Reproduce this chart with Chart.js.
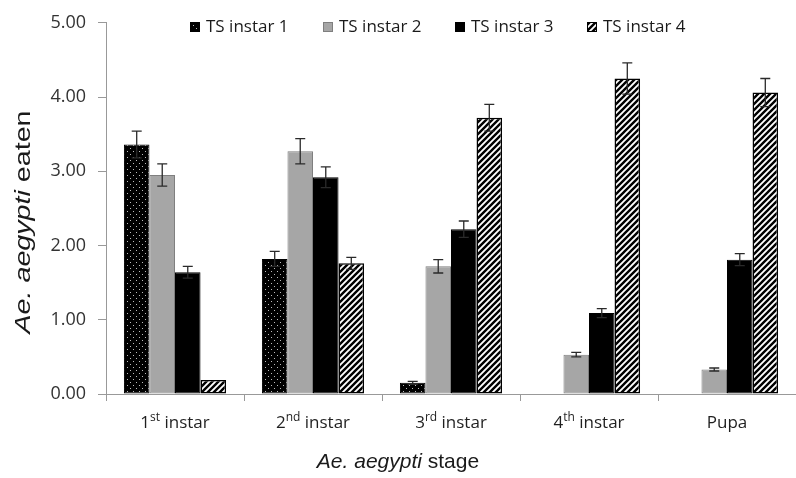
<!DOCTYPE html>
<html>
<head>
<meta charset="utf-8">
<script src="https://cdn.jsdelivr.net/npm/chart.js@4.4.1/dist/chart.umd.min.js"></script>
<style>
  html, body { margin: 0; padding: 0; background: #fff; }
  #wrap { width: 796px; height: 478px; position: relative; }
</style>
</head>
<body>
<div id="wrap"><canvas id="chart"></canvas></div>
<script>
// Datos
const categories = ["1st instar", "2nd instar", "3rd instar", "4th instar", "Pupa"];
const seriesNames = ["TS instar 1", "TS instar 2", "TS instar 3", "TS instar 4"];
const ts1 = [3.36, 1.82, 0.15, 0, 0];
const ts2 = [2.95, 3.27, 1.72, 0.53, 0.33];
const ts3 = [1.64, 2.92, 2.22, 1.09, 1.81];
const ts4 = [0.19, 1.76, 3.72, 4.25, 4.06];
const ts1Err = [0.18, 0.10, 0.02, 0, 0];
const ts2Err = [0.15, 0.17, 0.09, 0.03, 0.02];
const ts3Err = [0.08, 0.14, 0.11, 0.06, 0.08];
const ts4Err = [0.00, 0.08, 0.18, 0.21, 0.19];
const yMin = 0, yMax = 5, yStep = 1;
const xTitle = ["Ae. aegypti", " stage"];
const yTitle = ["Ae. aegypti", " eaten"];

// patrones de relleno
function makeTile(size, draw) {
    const c = document.createElement("canvas");
    c.width = size; c.height = size;
    draw(c.getContext("2d"), size);
    return c.getContext("2d").createPattern(c, "repeat");
}
const dotPattern = makeTile(6, (g, s) => {
    g.fillStyle = "#000"; g.fillRect(0, 0, s, s);
    g.fillStyle = "#bdbdbd";
    g.fillRect(1, 1, 1, 1);
    g.fillRect(4, 4, 1, 1);
});
const hatchPattern = makeTile(6, (g, s) => {
    g.fillStyle = "#fff"; g.fillRect(0, 0, s, s);
    g.strokeStyle = "#000"; g.lineWidth = 2.4;
    g.beginPath();
    g.moveTo(-1, s + 1); g.lineTo(s + 1, -1);
    g.moveTo(-1, 1); g.lineTo(1, -1);
    g.moveTo(s - 1, s + 1); g.lineTo(s + 1, s - 1);
    g.stroke();
});

const fills = [dotPattern, "#a6a6a6", "#000000", hatchPattern];
const borders = ["#000000", "#7f7f7f", "#000000", "#000000"];
const values = [ts1, ts2, ts3, ts4];
const errors = [ts1Err, ts2Err, ts3Err, ts4Err];

const decor = {
    id: "decor",
    afterDatasetsDraw(chart) {
        const ctx = chart.ctx;
        const y = chart.scales.y;
        ctx.save();
        ctx.strokeStyle = "#2a2a2a";
        ctx.lineWidth = 1.3;
        chart.data.datasets.forEach((ds, di) => {
            const meta = chart.getDatasetMeta(di);
            meta.data.forEach((bar, i) => {
                const v = ds.data[i], e = errors[di][i];
                if (!v || !e) return;
                const top = y.getPixelForValue(v + e);
                const bot = y.getPixelForValue(v - e);
                ctx.beginPath();
                ctx.moveTo(bar.x, top); ctx.lineTo(bar.x, bot);
                ctx.moveTo(bar.x - 5, top); ctx.lineTo(bar.x + 5, top);
                ctx.moveTo(bar.x - 5, bot); ctx.lineTo(bar.x + 5, bot);
                ctx.stroke();
            });
        });
        ctx.restore();
    },
    afterDraw(chart) {
        const ctx = chart.ctx;
        const x = chart.scales.x;
        ctx.save();

        // etiquetas del eje x con superindice
        ctx.fillStyle = "#1f1f1f";
        ctx.textBaseline = "alphabetic";
        categories.forEach((lab, i) => {
            const cx = x.getPixelForValue(i);
            const m = lab.match(/^(\d)(st|nd|rd|th)(.*)$/);
            const parts = m ? [[m[1], 17, 0], [m[2], 12, -7], [m[3], 17, 0]] : [[lab, 17, 0]];
            let w = 0;
            parts.forEach(p => { ctx.font = p[1] + "px 'Open Sans'"; w += ctx.measureText(p[0]).width; });
            let px = cx - w / 2;
            parts.forEach(p => {
                ctx.font = p[1] + "px 'Open Sans'";
                ctx.textAlign = "left";
                ctx.fillText(p[0], px, 428 + p[2]);
                px += ctx.measureText(p[0]).width;
            });
        });

        // titulos de ejes (cursiva + normal)
        const measureTitle = (parts, size) => {
            ctx.font = "italic " + size + "px 'Liberation Sans'";
            const w1 = ctx.measureText(parts[0]).width;
            ctx.font = size + "px 'Liberation Sans'";
            const w2 = ctx.measureText(parts[1]).width;
            return [w1, w2];
        };
        ctx.fillStyle = "#1a1a1a";
        let [a, b] = measureTitle(xTitle, 21);
        let sx = 398 - (a + b) / 2;
        ctx.font = "italic 21px 'Liberation Sans'";
        ctx.fillText(xTitle[0], sx, 468);
        ctx.font = "21px 'Liberation Sans'";
        ctx.fillText(xTitle[1], sx + a, 468);

        [a, b] = measureTitle(yTitle, 22);
        const stretch = 223 / (a + b);
        ctx.save();
        ctx.translate(30, 222);
        ctx.rotate(-Math.PI / 2);
        ctx.scale(stretch, 1);
        ctx.font = "italic 22px 'Liberation Sans'";
        ctx.fillText(yTitle[0], -(a + b) / 2, 0);
        ctx.font = "22px 'Liberation Sans'";
        ctx.fillText(yTitle[1], -(a + b) / 2 + a, 0);
        ctx.restore();

        // leyenda
        const boxX = [190, 323, 455, 587];
        ctx.font = "17px 'Open Sans'";
        ctx.textBaseline = "middle";
        seriesNames.forEach((name, i) => {
            ctx.fillStyle = fills[i];
            ctx.fillRect(boxX[i], 22, 10, 10);
            ctx.strokeStyle = borders[i];
            ctx.lineWidth = 1;
            ctx.strokeRect(boxX[i] + 0.5, 22.5, 9, 9);
            ctx.fillStyle = "#1a1a1a";
            ctx.fillText(name, boxX[i] + 16, 27);
        });
        ctx.restore();
    }
};

new Chart(document.getElementById("chart"), {
    type: "bar",
    data: {
        labels: categories,
        datasets: seriesNames.map((name, i) => ({
            label: name,
            data: values[i],
            backgroundColor: fills[i],
            borderColor: borders[i],
            borderWidth: i === 3 ? 1.5 : 1,
            borderSkipped: false,
            barPercentage: 1,
            categoryPercentage: 0.74
        }))
    },
    options: {
        responsive: true,
        maintainAspectRatio: false,
        animation: false,
        layout: { padding: { top: 16, left: 0, right: 0, bottom: 0 } },
        plugins: {
            legend: { display: false },
            tooltip: { enabled: false }
        },
        scales: {
            x: {
                offset: true,
                grid: { offset: true, drawOnChartArea: false, drawTicks: true, tickLength: 7, color: "#999" },
                border: { color: "#999", width: 1 },
                ticks: { callback: () => "" },
                afterFit: s => { s.height = 84; }
            },
            y: {
                min: yMin,
                max: yMax,
                ticks: {
                    stepSize: yStep,
                    callback: v => v.toFixed(2),
                    font: { family: "'Open Sans'", size: 18 },
                    color: "#333",
                    padding: 12
                },
                grid: { drawOnChartArea: false, drawTicks: true, tickLength: 8, color: "#999" },
                border: { color: "#999", width: 1 },
                afterFit: s => { s.width = 106; }
            }
        }
    },
    plugins: [decor]
});
</script>
</body>
</html>
